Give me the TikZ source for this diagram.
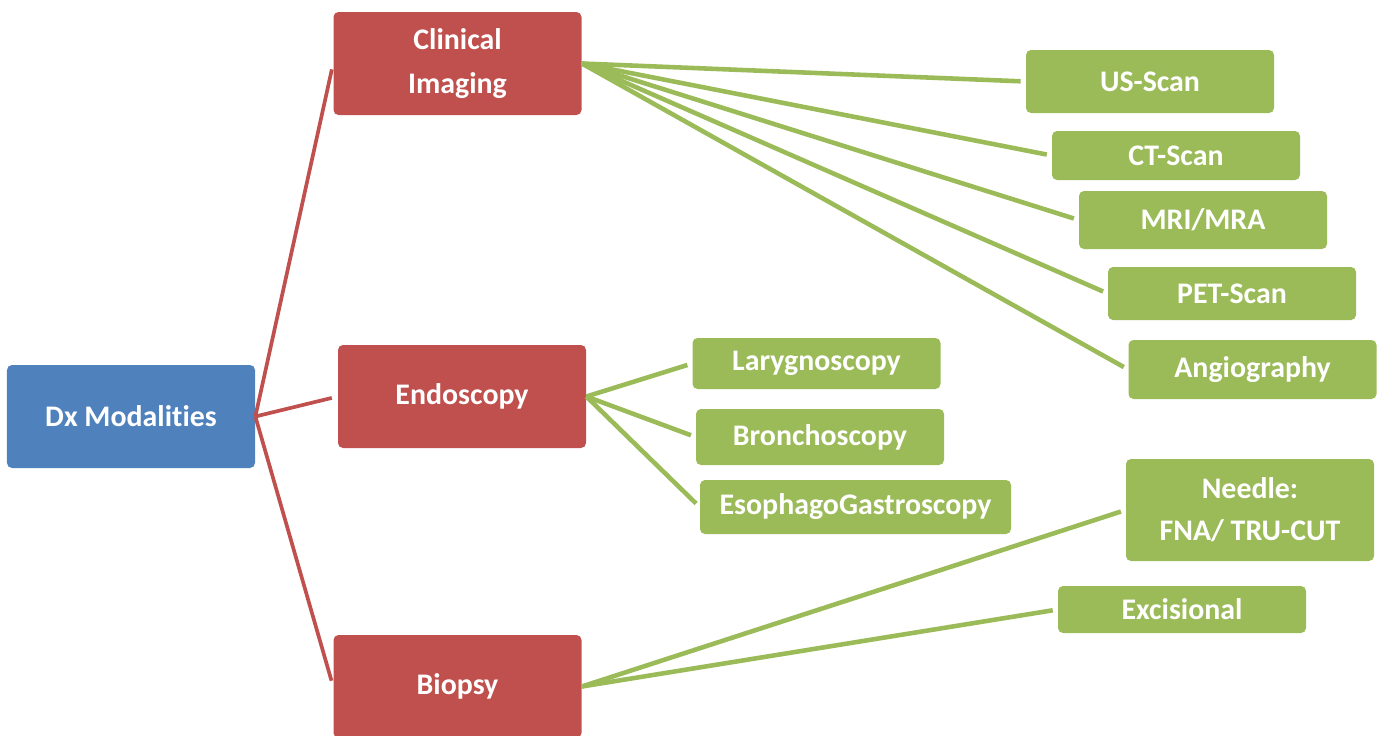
\documentclass[tikz,border=0pt]{standalone}
\usepackage{fontspec}
\setmainfont{Carlito}[Ligatures=NoCommon]
\usetikzlibrary{positioning}
\definecolor{dxblue}{HTML}{4F81BD}
\definecolor{dxred}{HTML}{C0504D}
\definecolor{dxgreen}{HTML}{9BBB59}

\begin{document}
\begin{tikzpicture}[
            box/.style={rectangle, rounded corners=0.1cm, inner sep=0pt, minimum width=4.96cm, align=center,
                        text=white, font=\fontsize{17}{24}\selectfont\bfseries},
            root/.style={box, fill=dxblue, minimum height=2.06cm},
            cat/.style={box, fill=dxred, minimum height=2.06cm},
            leaf/.style={box, fill=dxgreen},
            redl/.style={draw=dxred, line width=2.1pt, shorten >=0.12cm},
            grnl/.style={draw=dxgreen, line width=2.6pt, shorten >=0.1cm}]
            \useasboundingbox (0,0) rectangle (27.62,-14.72);
            % main nodes
            \node[root] (dx) at (2.62,-8.33) {Dx Modalities};
            \node[cat] (img) at (9.15,-1.27) {Clinical\\[1.5pt]Imaging};
            \node[cat] (endo) at (9.24,-7.93) {Endoscopy};
            \node[cat] (bio) at (9.15,-13.73) {Biopsy};
            % imaging
            \node[leaf, minimum height=1.26cm] (us) at (23.00,-1.63) {US-Scan};
            \node[leaf, minimum height=0.98cm] (ct) at (23.52,-3.11) {CT-Scan};
            \node[leaf, minimum height=1.16cm] (mri) at (24.06,-4.40) {MRI/MRA};
            \node[leaf, minimum height=1.06cm] (pet) at (24.64,-5.87) {PET-Scan};
            \node[leaf, minimum height=1.18cm] (angio) at (25.05,-7.39) {Angiography};
            % endoscopy
            \node[leaf, minimum height=1.02cm] (lar) at (16.33,-7.27) {Larygnoscopy};
            \node[leaf, minimum height=1.12cm] (bron) at (16.40,-8.74) {Bronchoscopy};
            \node[leaf, minimum height=1.08cm, minimum width=6.22cm] (eso) at (17.11,-10.14) {EsophagoGastroscopy};
            % biopsy
            \node[leaf, minimum height=2.04cm] (ndl) at (25.00,-10.20) {Needle:\\FNA/ TRU-CUT};
            \node[leaf, minimum height=0.94cm] (exc) at (23.64,-12.19) {Excisional};
            \draw[redl] (dx.east) -- (img.west);
            \draw[redl] (dx.east) -- (endo.west);
            \draw[redl] (dx.east) -- (bio.west);
            \foreach \n in {us,ct,mri,pet,angio} { \draw[grnl] (img.east) -- (\n.west); }
            \foreach \n in {lar,bron,eso} { \draw[grnl] (endo.east) -- (\n.west); }
            \draw[grnl] (bio.east) -- (ndl.west);
            \draw[grnl] (bio.east) -- (exc.west);
        \end{tikzpicture}
\end{document}
